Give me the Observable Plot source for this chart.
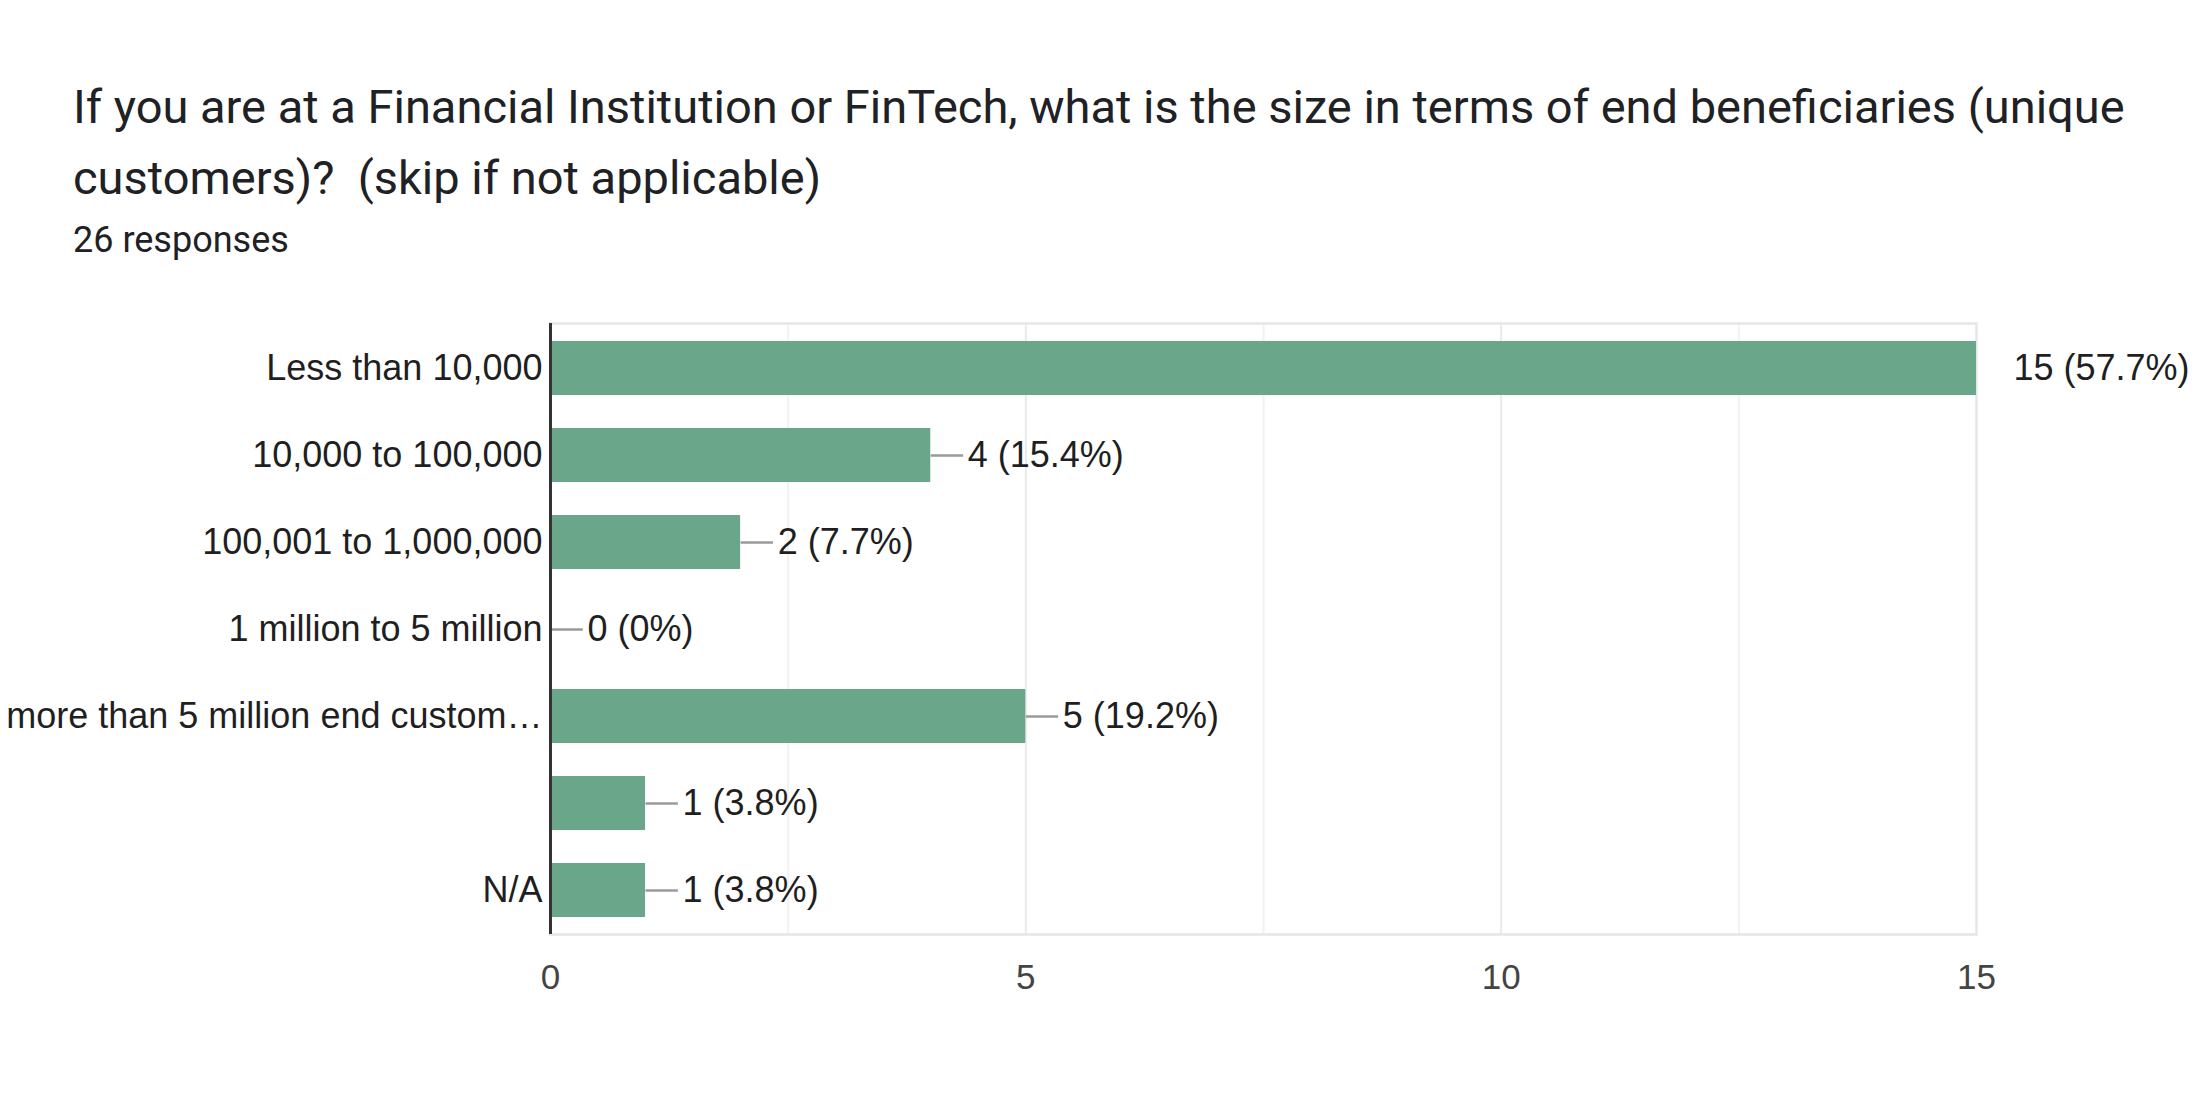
<!DOCTYPE html>
<html>
<head>
<meta charset="utf-8">
<script src="https://cdn.jsdelivr.net/npm/d3@7"></script>
<script src="https://cdn.jsdelivr.net/npm/@observablehq/plot@0.6"></script>
<style>
  html, body { margin: 0; padding: 0; background: #fff; }
  body { width: 2196px; height: 1116px; position: relative; overflow: hidden; }
  #title { position: absolute; left: 73px; top: 71px; font-family: Roboto, sans-serif; font-size: 47px; line-height: 71px; color: #202124; white-space: nowrap; }
  #sub { position: absolute; left: 73px; top: 216px; font-family: Roboto, sans-serif; font-size: 36px; line-height: 48px; color: #202124; }
  #chart { position: absolute; left: 0; top: 280px; }
</style>
</head>
<body>
<div id="title">If you are at a Financial Institution or FinTech, what is the size in terms of end beneficiaries (unique<br>customers)?&nbsp;&nbsp;(skip if not applicable)</div>
<div id="sub">26 responses</div>
<div id="chart"></div>
<script>
const categories = [
  "Less than 10,000",
  "10,000 to 100,000",
  "100,001 to 1,000,000",
  "1 million to 5 million",
  "more than 5 million end custom…",
  "",
  "N/A"
];
const counts = [15, 4, 2, 0, 5, 1, 1];
const percents = ["57.7", "15.4", "7.7", "0", "19.2", "3.8", "3.8"];
const xTicks = [0, 5, 10, 15];
const majorGrid = [5, 10];
const minorGrid = [2.5, 7.5, 12.5];

const data = categories.map((c, i) => ({cat: c, v: counts[i], label: `${counts[i]} (${percents[i]}%)`}));

const chartFont = "'Liberation Sans', Arial, sans-serif";
const leader = 0.34;

const plot = Plot.plot({
  width: 2196,
  height: 760,
  marginTop: 43,
  marginBottom: 106,
  marginLeft: 550,
  marginRight: 220,
  style: {fontFamily: chartFont, fontSize: "35px", color: "#222", background: "#fff"},
  x: {domain: [0, 15], ticks: xTicks, tickSize: 0, tickPadding: 30, label: null},
  y: {domain: categories, paddingInner: 0.38, paddingOuter: 0.19, tickSize: 0, tickPadding: 8, label: null},
  marks: [
    Plot.ruleX(minorGrid, {stroke: "#f2f2f2", strokeWidth: 2}),
    Plot.ruleX(majorGrid, {stroke: "#e9e9e9", strokeWidth: 2}),
    Plot.frame({stroke: "#e6e6e6", strokeWidth: 2.5}),
    Plot.link(data, {x1: "v", x2: d => d.v + leader, y1: "cat", y2: "cat", stroke: "#9a9a9a", strokeWidth: 2.5, clip: "frame"}),
    Plot.barX(data, {x: "v", y: "cat", fill: "#6aa689"}),
    Plot.ruleX([0], {stroke: "#333", strokeWidth: 3}),
    Plot.text(data, {x: "v", y: "cat", text: "label", dx: 37, textAnchor: "start", fontSize: 36, fill: "#1f1f1f"}),
    Plot.axisX({ticks: xTicks, tickSize: 0, tickPadding: 30, fontSize: 35, color: "#444", label: null}),
    Plot.axisY({tickSize: 0, tickPadding: 8, fontSize: 36, color: "#1f1f1f", label: null})
  ]
});
document.getElementById("chart").appendChild(plot);
</script>
</body>
</html>
